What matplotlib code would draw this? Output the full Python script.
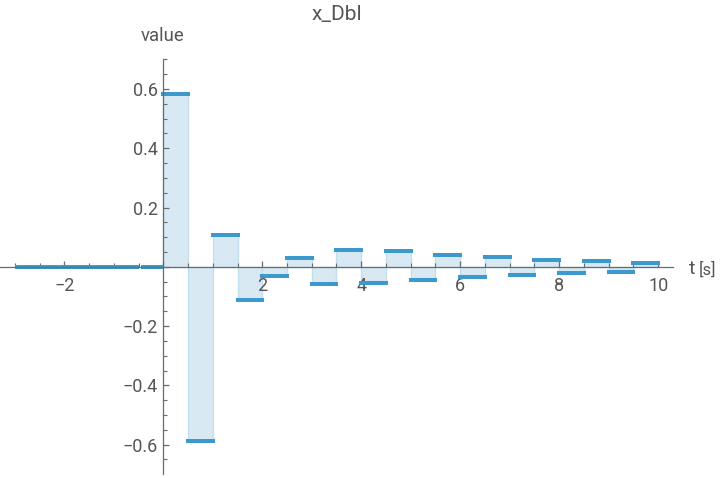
import matplotlib
matplotlib.use("Agg")
import matplotlib.pyplot as plt
from matplotlib.ticker import MultipleLocator, FuncFormatter
import numpy as np

plt.rcParams['font.family'] = ['Roboto', 'DejaVu Sans']

# Data: step start times (s) and values, each step lasts 0.5 s
step_width = 0.5
t_pre = [-3.0, -2.5, -2.0, -1.5, -1.0]
v_pre = [0.0, 0.0, 0.0, 0.0, 0.0]
t_main = [-0.5, 0.0, 0.5, 1.0, 1.5, 2.0, 2.5, 3.0, 3.5, 4.0, 4.5, 5.0, 5.5,
          6.0, 6.5, 7.0, 7.5, 8.0, 8.5, 9.0, 9.5]
v_main = [0.0, 0.582, -0.587, 0.107, -0.111, -0.030, 0.030, -0.057, 0.056,
          -0.056, 0.052, -0.046, 0.041, -0.036, 0.032, -0.027, 0.024,
          -0.021, 0.018, -0.017, 0.013]

title = "x_Dbl"
xlabel_main = "t"
xlabel_unit = "[s]"
ylabel = "value"

line_col = "#3D98CD"
fill_col = "#D8E9F3"
edge_col = "#C3DEEE"
axis_col = "#6B6B6B"
text_col = "#555555"

fig = plt.figure(figsize=(7.2, 4.78), dpi=100)
ax = fig.add_axes([0.0, 4 / 478, 673 / 720, 415 / 478])
ax.set_xlim(-3.30, 10.30)
ax.set_ylim(-0.699, 0.701)

t_all = t_pre + t_main
v_all = v_pre + v_main

# fills
ax.bar(t_all, v_all, width=step_width, align='edge', color=fill_col,
       edgecolor=edge_col, linewidth=1.0, zorder=1)

# step segments
ax.hlines(v_pre, t_pre, [t + step_width for t in t_pre], colors=line_col,
          linewidth=2.9, zorder=3)
for t, v in zip(t_main, v_main):
    ax.plot([t + 0.05 if t < 0 else t, t + step_width], [v, v], color=line_col,
            linewidth=2.9, solid_capstyle='projecting' if t >= 0 else 'butt',
            zorder=3)

# axes styling (Mathematica-like)
for s in ['top', 'right']:
    ax.spines[s].set_visible(False)
ax.spines['left'].set_position(('data', 0))
ax.spines['bottom'].set_position(('data', 0))
for s in ['left', 'bottom']:
    ax.spines[s].set_color(axis_col)
    ax.spines[s].set_linewidth(0.9)
    ax.spines[s].set_zorder(4)

ax.xaxis.set_major_locator(MultipleLocator(2))
ax.xaxis.set_minor_locator(MultipleLocator(0.5))
ax.yaxis.set_major_locator(MultipleLocator(0.2))
ax.yaxis.set_minor_locator(MultipleLocator(0.05))

def xfmt(x, pos):
    if abs(x) < 1e-9:
        return ""
    s = f"{x:g}"
    return s.replace("-", "\u2212")

def yfmt(y, pos):
    if abs(y) < 1e-9:
        return ""
    s = f"{y:.1f}"
    return s.replace("-", "\u2212")

ax.xaxis.set_major_formatter(FuncFormatter(xfmt))
ax.yaxis.set_major_formatter(FuncFormatter(yfmt))

ax.tick_params(axis='x', which='major', direction='in', length=4.5, width=0.9,
               color=axis_col, labelcolor=text_col, labelsize=13, pad=7)
ax.tick_params(axis='x', which='minor', direction='in', length=3.0, width=0.8,
               color=axis_col)
ax.tick_params(axis='y', which='major', direction='in', length=4.5, width=0.9,
               color=axis_col, labelcolor=text_col, labelsize=13, pad=4)
ax.tick_params(axis='y', which='minor', direction='in', length=3.0, width=0.8,
               color=axis_col)
ax.set_facecolor('none')

# labels
fig.text(337 / 720, 1 - 14 / 478, title, ha='center', va='center',
         fontsize=15, color=text_col)
fig.text(163 / 720, 1 - 36 / 478, ylabel, ha='center', va='center',
         fontsize=13.3, color=text_col)
fig.text(689 / 720, 1 - 269 / 478, xlabel_main, ha='left', va='center',
         fontsize=14, color=text_col)
fig.text(699 / 720, 1 - 270 / 478, xlabel_unit, ha='left', va='center',
         fontsize=12, color=text_col)

fig.savefig("out.png", dpi=100)
